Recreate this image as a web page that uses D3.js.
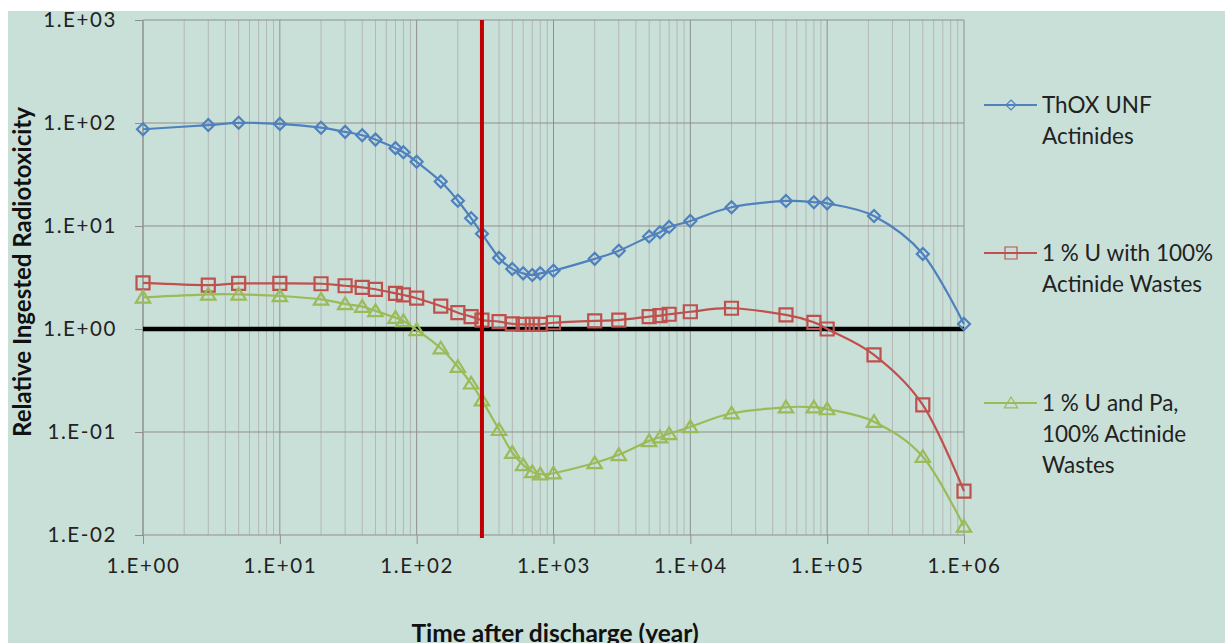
<!DOCTYPE html>
<html>
<head>
<meta charset="utf-8">
<script src="https://cdn.jsdelivr.net/npm/d3@7"></script>
<style>
  body { margin: 0; background: #fff; }
  svg { display: block; font-family: Lato, "Open Sans", sans-serif; }
</style>
</head>
<body>
<div id="chart"></div>
<script>
// values (years after discharge, relative radiotoxicity)
const years = [1, 3, 5, 10, 20, 30, 40, 50, 70, 80, 100, 150, 200, 250, 300, 400, 500, 600, 700, 800,
  1000, 2000, 3000, 5000, 6000, 7000, 10000, 20000, 50000, 80000, 100000, 220000, 500000, 1000000];
const thoxUNF = [87, 95.5, 100.5, 98, 90, 82, 76, 69, 57, 52, 42, 27, 17.6, 11.9, 8.4, 4.9, 3.83, 3.47, 3.34, 3.47,
  3.68, 4.8, 5.75, 7.9, 8.7, 9.8, 11.2, 15.2, 17.5, 17.0, 16.6, 12.5, 5.35, 1.12];
const uWith100 = [2.81, 2.67, 2.77, 2.77, 2.75, 2.63, 2.54, 2.43, 2.22, 2.14, 1.99, 1.67, 1.44, 1.32, 1.22, 1.18, 1.12, 1.11, 1.11, 1.11,
  1.15, 1.2, 1.22, 1.32, 1.35, 1.39, 1.47, 1.59, 1.37, 1.16, 1.0, 0.56, 0.183, 0.0267];
const uPa100 = [2.03, 2.17, 2.17, 2.09, 1.94, 1.75, 1.65, 1.5, 1.29, 1.2, 0.98, 0.65, 0.43, 0.297, 0.204, 0.105, 0.063, 0.048, 0.041, 0.039,
  0.0398, 0.05, 0.06, 0.082, 0.089, 0.096, 0.112, 0.152, 0.174, 0.174, 0.167, 0.126, 0.0575, 0.0121];
const seriesNames = [["ThOX UNF", "Actinides"], ["1 % U with 100%", "Actinide Wastes"], ["1 % U and Pa,", "100% Actinide", "Wastes"]];
const xTickValues = [1, 1e1, 1e2, 1e3, 1e4, 1e5, 1e6];
const yTickValues = [1e-2, 1e-1, 1, 1e1, 1e2, 1e3];
const thresholdYear = 300;
const thresholdLevel = 1;

const W = 1225, H = 643;
const plot = { left: 143, right: 964, top: 20, bottom: 535 };

const series = [
  { name: seriesNames[0], values: thoxUNF, color: "#4F81BD", marker: "diamond", legendY: 105 },
  { name: seriesNames[1], values: uWith100, color: "#C0504D", marker: "square", legendY: 253 },
  { name: seriesNames[2], values: uPa100, color: "#9BBB59", marker: "triangle", legendY: 403 }
];

const x = d3.scaleLog().domain([1, 1e6]).range([plot.left, plot.right]);
const y = d3.scaleLog().domain([1e-2, 1e3]).range([plot.bottom, plot.top]);

const fmt = v => {
  const e = Math.round(Math.log10(v));
  return "1.E" + (e < 0 ? "-" : "+") + String(Math.abs(e)).padStart(2, "0");
};

const svg = d3.select("#chart").append("svg")
  .attr("width", W)
  .attr("height", H);

svg.append("rect").attr("width", W).attr("height", H).attr("fill", "#fff");
svg.append("rect").attr("x", 8).attr("y", 11).attr("width", W - 8).attr("height", H - 11).attr("fill", "#C9E0D8");

// minor vertical gridlines
const minor = x.ticks().filter(v => !xTickValues.includes(v));
svg.append("g").selectAll("line").data(minor).join("line")
  .attr("x1", d => x(d)).attr("x2", d => x(d))
  .attr("y1", plot.top).attr("y2", plot.bottom)
  .attr("stroke", "#b5b5b5").attr("stroke-width", 1);

// major gridlines
svg.append("g").selectAll("line").data(xTickValues).join("line")
  .attr("x1", d => x(d)).attr("x2", d => x(d))
  .attr("y1", plot.top).attr("y2", plot.bottom)
  .attr("stroke", "#8f8f8f").attr("stroke-width", 1);
svg.append("g").selectAll("line").data(yTickValues).join("line")
  .attr("x1", plot.left).attr("x2", plot.right)
  .attr("y1", d => y(d)).attr("y2", d => y(d))
  .attr("stroke", "#8f8f8f").attr("stroke-width", 1);

// axes
const yAxis = svg.append("g")
  .attr("transform", `translate(${plot.left},0)`)
  .call(d3.axisLeft(y).tickValues(yTickValues).tickFormat(fmt).tickSize(8).tickPadding(18));
const xAxis = svg.append("g")
  .attr("transform", `translate(0,${plot.bottom})`)
  .call(d3.axisBottom(x).tickValues(xTickValues).tickFormat(fmt).tickSize(9).tickPadding(14));
[xAxis, yAxis].forEach(g => {
  g.select(".domain").remove();
  g.selectAll(".tick line").attr("stroke", "#8f8f8f");
  g.selectAll(".tick text")
    .attr("fill", "#222")
    .style("font-family", "Lato, sans-serif")
    .style("font-size", "20.5px")
    .style("letter-spacing", "1.6px");
});
svg.append("line")
  .attr("x1", plot.left).attr("x2", plot.left)
  .attr("y1", plot.top).attr("y2", plot.bottom)
  .attr("stroke", "#8f8f8f");

// reference level
svg.append("line")
  .attr("x1", x(1)).attr("x2", x(1e6))
  .attr("y1", y(thresholdLevel)).attr("y2", y(thresholdLevel))
  .attr("stroke", "#000").attr("stroke-width", 4.5);

// series lines
const line = d3.line()
  .x((d, i) => x(years[i]))
  .y(d => y(d))
  .curve(d3.curveCardinal.tension(0));

series.forEach(s => {
  svg.append("path")
    .datum(s.values)
    .attr("d", line)
    .attr("fill", "none")
    .attr("stroke", s.color)
    .attr("stroke-width", 2.2);
});

function markerPath(type, r) {
  if (type === "diamond") return `M0,${-r}L${r},0L0,${r}L${-r},0Z`;
  if (type === "square") return `M${-r},${-r}H${r}V${r}H${-r}Z`;
  return `M0,${-r}L${r * 1.1},${r * 0.8}H${-r * 1.1}Z`;
}
const markerSize = { diamond: 6, square: 6.5, triangle: 6.5 };

series.forEach(s => {
  svg.append("g").selectAll("path")
    .data(s.values)
    .join("path")
    .attr("transform", (d, i) => `translate(${x(years[i])},${y(d)})`)
    .attr("d", markerPath(s.marker, markerSize[s.marker]))
    .attr("fill", "none")
    .attr("stroke", s.color)
    .attr("stroke-width", 2.2);
});

// reference year
svg.append("line")
  .attr("x1", x(thresholdYear)).attr("x2", x(thresholdYear))
  .attr("y1", plot.top).attr("y2", plot.bottom + 3)
  .attr("stroke", "#C00000").attr("stroke-width", 4);

// legend
const legend = svg.append("g");
series.forEach(s => {
  const g = legend.append("g").attr("transform", `translate(984,${s.legendY})`);
  g.append("line").attr("x1", 0).attr("x2", 53).attr("stroke", s.color).attr("stroke-width", 2);
  g.append("path")
    .attr("transform", "translate(27,0)")
    .attr("d", markerPath(s.marker, s.marker === "diamond" ? 5 : 6))
    .attr("fill", "none").attr("stroke", s.color).attr("stroke-width", 1.2);
  g.append("text")
    .attr("x", 58)
    .attr("y", 8)
    .attr("fill", "#222")
    .style("font-size", "22.5px")
    .selectAll("tspan")
    .data(s.name)
    .join("tspan")
    .attr("x", 58)
    .attr("dy", (d, i) => i === 0 ? 0 : 31)
    .text(d => d);
});

// axis titles
svg.append("text")
  .attr("transform", `translate(31,272) rotate(-90)`)
  .attr("text-anchor", "middle")
  .attr("fill", "#111")
  .style("font-weight", "bold")
  .style("font-size", "24px")
  .text("Relative Ingested Radiotoxicity");
svg.append("text")
  .attr("x", 555)
  .attr("y", 642)
  .attr("text-anchor", "middle")
  .attr("fill", "#111")
  .style("font-weight", "bold")
  .style("font-size", "24.5px")
  .text("Time after discharge (year)");
</script>
</body>
</html>
